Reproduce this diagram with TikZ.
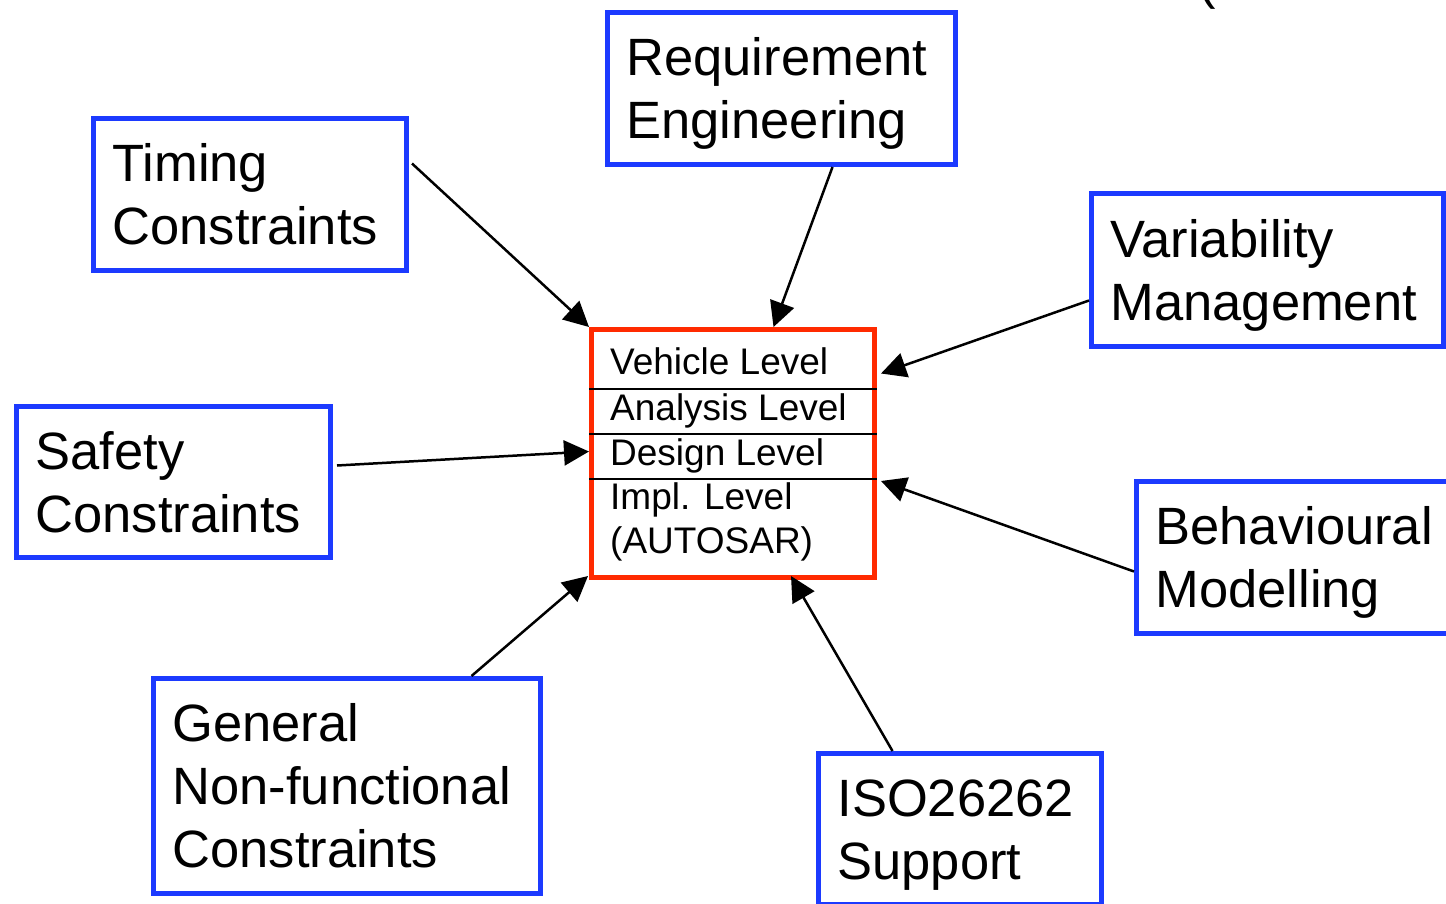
\documentclass[tikz,border=0pt]{standalone}
\usepackage{fontspec}
\setmainfont{Liberation Sans}
\usetikzlibrary{arrows.meta}
\usetikzlibrary{positioning}

\definecolor{boxblue}{RGB}{28,58,255}
\definecolor{corered}{RGB}{255,42,0}

\begin{document}
\begin{tikzpicture}[x=1pt, y=-1pt,
    box/.style={draw=boxblue, line width=5pt, rectangle, anchor=north west, inner xsep=19pt, inner ysep=0pt,
        align=left, font=\fontsize{52.5}{63}\selectfont,
        execute at begin node={\rule{0pt}{48.6pt}}, execute at end node={\rule[-11pt]{0pt}{0pt}}},
    level/.style={anchor=base west, inner sep=0pt, align=left, font=\fontsize{37}{44}\selectfont},
    feed/.style={line width=2.5pt, -{Triangle[length=25pt, width=25pt]}}]
    \useasboundingbox (0,0) rectangle (1446,903);
    \clip (0,0) rectangle (1446,903);

    \node[draw=corered, line width=5pt, minimum width=283pt, minimum height=248pt, anchor=north west, inner sep=0pt] (core) at (589,327) {};
    \node[level] (vehicle) at (610,374) {Vehicle Level};
    \node[level] (analysis) at (610,420) {Analysis Level};
    \node[level] (design) at (610,465) {Design Level};
    \node[level] (impl) at (610,553) {Impl. Level\\(AUTOSAR)};
    \foreach \y in {389,434,479}
        \draw[line width=1.2pt] (589,\y) -- (877,\y);

    \node[box, text width=275pt, minimum height=152pt] (timing) at (91,116) {Timing\\Constraints};
    \node[box, text width=310pt, minimum height=152pt] (reqeng) at (605,10) {Requirement\\Engineering};
    \node[box, text width=314pt, minimum height=153pt] (variab) at (1089,191) {Variability\\Management};
    \node[box, text width=276pt, minimum height=151pt] (safety) at (14,404) {Safety\\Constraints};
    \node[box, text width=286pt, minimum height=152pt] (behav) at (1134,479) {Behavioural\\Modelling};
    \node[box, text width=349pt, minimum height=215pt] (general) at (151,676) {General\\Non-functional\\Constraints};
    \node[box, text width=245pt, minimum height=151pt] (iso) at (816,751) {ISO26262\\Support};
    \node[anchor=base west, inner sep=0pt, font=\fontsize{52.5}{63}\selectfont] (paren) at (1198,-2) {(};

    \draw[feed] ([xshift=3pt, yshift=31pt]timing.east) -- (core.north west);
    \draw[feed] ([xshift=51pt]reqeng.south) -- ([xshift=40.5pt]core.north);
    \draw[feed] ([yshift=-30.5pt]variab.west) -- ([xshift=4pt, yshift=80pt]core.east);
    \draw[feed] ([xshift=4pt, yshift=16.5pt]safety.east) -- ([yshift=2pt]core.west);
    \draw[feed] ([yshift=-14pt]behav.west) -- ([xshift=4pt, yshift=-27.5pt]core.east);
    \draw[feed] ([xshift=124.5pt]general.north) -- ([xshift=-1pt, yshift=4pt]core.south west);
    \draw[feed] ([xshift=-67.5pt]iso.north) -- ([xshift=58pt, yshift=4pt]core.south);
\end{tikzpicture}
\end{document}
